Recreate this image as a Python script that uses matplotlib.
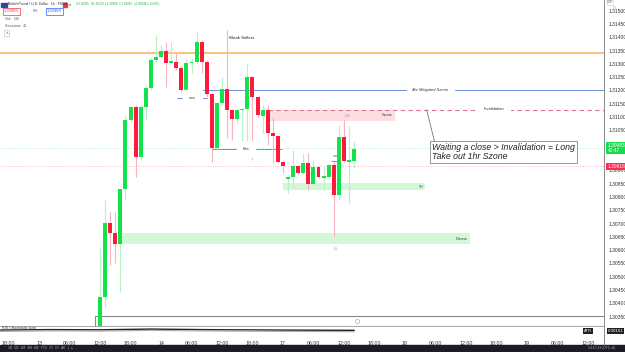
import numpy as np
import matplotlib.pyplot as plt
from matplotlib.patches import Rectangle

plt.rcParams['font.family'] = ['Liberation Sans', 'DejaVu Sans']

# ---- GBPUSD 1h candles (bar index 0 = 13th 12:00) ----
opens = [1.30262, 1.30423, 1.30701, 1.30664, 1.30623, 1.30830, 1.31089, 1.31138, 1.30950, 1.31138,
         1.31209, 1.31315, 1.31326, 1.31349, 1.31303, 1.31307, 1.31285, 1.31202, 1.31303, 1.31307,
         1.31382, 1.31307, 1.31187, 1.30984, 1.31153, 1.31205, 1.31127, 1.31093, 1.31127, 1.31130,
         1.31251, 1.31176, 1.31104, 1.31127, 1.31040, 1.31029, 1.30931, 1.30867, 1.30875, 1.30916,
         1.30890, 1.30927, 1.30848, 1.30912, 1.30871, 1.30875, 1.30920, 1.30807, 1.31025, 1.30931,
         1.30935]
highs = [1.30611, 1.30788, 1.30743, 1.30743, 1.30830, 1.31108, 1.31146, 1.31146, 1.31146, 1.31221,
         1.31322, 1.31409, 1.31371, 1.31382, 1.31382, 1.31341, 1.31292, 1.31322, 1.31322, 1.31420,
         1.31390, 1.31315, 1.31187, 1.31153, 1.31251, 1.31427, 1.31130, 1.31130, 1.31135, 1.31303,
         1.31255, 1.31180, 1.31146, 1.31146, 1.31100, 1.31033, 1.30935, 1.30879, 1.30976, 1.30920,
         1.30965, 1.30965, 1.30939, 1.30916, 1.30912, 1.30924, 1.30939, 1.31070, 1.31089, 1.31067,
         1.31010]
lows = [1.30240, 1.30386, 1.30544, 1.30551, 1.30442, 1.30788, 1.31082, 1.30875, 1.30939, 1.31089,
        1.31202, 1.31307, 1.31322, 1.31213, 1.31300, 1.31277, 1.31194, 1.31194, 1.31266, 1.31300,
        1.31266, 1.31176, 1.30931, 1.30976, 1.31146, 1.31021, 1.31014, 1.31078, 1.31003, 1.31003,
        1.30939, 1.31100, 1.31040, 1.30995, 1.30927, 1.30927, 1.30890, 1.30814, 1.30837, 1.30885,
        1.30886, 1.30826, 1.30845, 1.30870, 1.30826, 1.30871, 1.30649, 1.30788, 1.30931, 1.30777,
        1.30908]
closes = [1.30423, 1.30701, 1.30664, 1.30623, 1.30830, 1.31089, 1.31138, 1.30950, 1.31138, 1.31209,
          1.31315, 1.31326, 1.31349, 1.31303, 1.31311, 1.31285, 1.31202, 1.31303, 1.31307, 1.31382,
          1.31307, 1.31187, 1.30984, 1.31153, 1.31205, 1.31127, 1.31093, 1.31127, 1.31130, 1.31251,
          1.31176, 1.31108, 1.31127, 1.31040, 1.31029, 1.30931, 1.30916, 1.30875, 1.30916, 1.30890,
          1.30927, 1.30848, 1.30912, 1.30875, 1.30879, 1.30920, 1.30807, 1.31025, 1.30935, 1.30939,
          1.30980]

xtick_pos = [-18, -12, -6, 0, 6, 12, 18, 24, 30, 36, 42, 48, 54, 60, 66, 72, 78, 84, 90, 96]
xtick_lbl = ['18:00', '13', '06:00', '12:00', '18:00', '14', '06:00', '12:00', '18:00', '17',
             '06:00', '12:00', '18:00', '18', '06:00', '12:00', '18:00', '19', '06:00', '12:00']
price_ticks = [1.3035, 1.3040, 1.3045, 1.3050, 1.3055, 1.3060, 1.3065, 1.3070, 1.3075, 1.3080,
               1.3085, 1.3090, 1.3105, 1.3110, 1.3115, 1.3120, 1.3125, 1.3130, 1.3135, 1.3140,
               1.3145, 1.3150]

# levels / zones
weak_high = 1.31341
mitigated = 1.31202
mss_level = 1.31172
bos_level = 1.30980
invalidation = 1.31127
szone = (1.31085, 1.31127)
zone_1h = (1.30826, 1.30852)
dzone = (1.30623, 1.30664)
last_price = 1.30983
prev_close = 1.30918

# oscillator pane line
osc_x = [-20, -10, 0, 5, 10, 15, 20, 25, 30, 35, 40, 45, 50]
osc_y = [0.55, 0.60, 0.58, 0.62, 0.66, 0.63, 0.60, 0.58, 0.57, 0.55, 0.54, 0.53, 0.52]

GREEN = '#13e34a'
RED = '#ff1a3d'
GWICK = '#b6f2c4'
RWICK = '#f8b3bd'
XLIM = (-19.7, 99.2)

fig = plt.figure(figsize=(6.25, 3.52), dpi=100)
ax = fig.add_axes([0, 26 / 352, 604 / 625, 326 / 352])
ax.set_xlim(*XLIM)
ax.set_ylim(1.30315, 1.31540)

idx = np.arange(len(opens))
o = np.array(opens); c = np.array(closes)
up = c >= o
body_col = np.where(up, GREEN, RED)
wick_col = np.where(up, GWICK, RWICK)
ax.vlines(idx, lows, highs, colors=wick_col, lw=0.8, zorder=3)
bot = np.minimum(o, c)
hgt = np.maximum(np.abs(c - o), 0.000012)
ax.bar(idx, hgt, bottom=bot, width=0.78, color=body_col, zorder=4, lw=0)

# horizontal drawings
ax.axhline(weak_high, color='#f9b05a', lw=1.1, zorder=2)
ax.hlines(mitigated, 17, XLIM[1], color='#6e8fdc', lw=0.7, zorder=2)
ax.text(65, mitigated, '4hr Mitigated Szone', fontsize=3, style='italic', color='#333',
        ha='center', va='center', backgroundcolor='white', zorder=5)
ax.hlines(mss_level, 15.2, 21.1, color='#6e8fdc', lw=0.7, zorder=2)
ax.text(18.2, mss_level, 'mss', fontsize=2.8, color='#444', ha='center', va='center',
        backgroundcolor='white', zorder=5)
ax.hlines(bos_level, 22, 35.8, color='#6e8fdc', lw=0.7, zorder=2)
ax.text(28.7, bos_level, 'Bos', fontsize=2.8, color='#444', ha='center', va='center',
        backgroundcolor='white', zorder=5)

ax.add_patch(Rectangle((33.1, szone[0]), 25, szone[1] - szone[0], color='#fcdde1', lw=0, zorder=1))
ax.text(57.6, (szone[0] + szone[1]) / 2, 'Szone', fontsize=2.8, color='#444', ha='right', va='center', zorder=5)
ax.hlines(invalidation, 33.1, XLIM[1], color='#e0788a', lw=0.8, linestyles=(0, (4, 3)), zorder=2)
ax.text(75.5, invalidation + 0.00004, 'Invalidation', fontsize=3, color='#333', ha='left', va='center',
        backgroundcolor='white', zorder=5)

ax.add_patch(Rectangle((36, zone_1h[0]), 28, zone_1h[1] - zone_1h[0], color='#d2f8d9', lw=0, zorder=1))
ax.text(63.6, sum(zone_1h) / 2, '1H', fontsize=2.6, color='#444', ha='right', va='center', zorder=5)
ax.add_patch(Rectangle((3.9, dzone[0]), 68.9, dzone[1] - dzone[0], color='#d2f8d9', lw=0, zorder=1))
ax.text(72.3, sum(dzone) / 2, 'Dzone', fontsize=3, color='#444', ha='right', va='center', zorder=5)

ax.text(48.6, 1.31104, 'LH', fontsize=3.2, color='#f06a9a', ha='center', va='center', zorder=5)
ax.text(46.4, 1.30604, 'LL', fontsize=3.2, color='#f06a9a', ha='center', va='center', zorder=5)
ax.text(25.3, 1.31397, 'Weak Sellers', fontsize=3.2, color='#222', ha='left', va='center', zorder=5)
ax.hlines(1.30935, 45.4, 47.2, color='#888', lw=0.6, zorder=5)
ax.text(46.3, 1.30945, 'mss', fontsize=2.2, color='#666', ha='center', va='bottom', zorder=5)

# callout
ax.plot([64.3, 65.9], [invalidation, 1.31003], color='#777', lw=0.6, zorder=5)
ax.text(65.4, 1.30968, 'Waiting a close > Invalidation = Long\nTake out 1hr Szone', fontsize=6.3,
        style='italic', color='#222', ha='left', va='center', linespacing=0.95, zorder=6,
        bbox=dict(boxstyle='square,pad=0.25', fc='white', ec='#888', lw=0.6))

# price lines
ax.axhline(last_price, color='#9ff0b4', lw=0.6, ls=(0, (1, 2)), zorder=1)
ax.axhline(prev_close, color='#f7a3b0', lw=0.6, ls=(0, (1, 2)), zorder=1)

# box at bottom of pane
ax.add_patch(Rectangle((-1, 1.30315), 101, 0.00038, fill=False, ec='#888', lw=0.8, zorder=2))
ax.plot(50.5, 1.30335, marker='o', ms=3, mfc='white', mec='#bbb', mew=0.6, zorder=6)

# right price axis
ax.yaxis.tick_right()
ax.set_yticks(price_ticks)
ax.set_yticklabels([f'{p:.5f}' for p in price_ticks], fontsize=3.6, color='#333')
ax.tick_params(axis='y', length=0, pad=3)
ax.set_xticks([])
for s in ['top', 'left', 'bottom']:
    ax.spines[s].set_visible(False)
ax.spines['right'].set_color('#777')
ax.spines['right'].set_linewidth(0.6)

tr = ax.get_yaxis_transform()
ax.text(1.006, last_price, f'{last_price:.5f}\n42:47', transform=tr, fontsize=3.5, color='white',
        ha='left', va='center', linespacing=1.0, zorder=7,
        bbox=dict(boxstyle='square,pad=0.25', fc='#12e048', ec='none'))
ax.text(1.006, prev_close - 0.00004, f'{prev_close:.5f}', transform=tr, fontsize=3.5, color='white',
        ha='left', va='center', zorder=7, bbox=dict(boxstyle='square,pad=0.25', fc='#ff2a50', ec='none'))
fig.text(607 / 625, 351.6 / 352, 'USD', fontsize=1.9, color='#555', ha='left', va='top',
         bbox=dict(boxstyle='square,pad=0.1', fc='white', ec='#ccc', lw=0.4))

# oscillator pane + time axis
ax2 = fig.add_axes([0, 17 / 352, 604 / 625, 9 / 352])
ax2.set_xlim(*XLIM)
ax2.set_ylim(0, 1)
ax2.plot(osc_x, osc_y, color='#222', lw=1.0)
ax2.plot(osc_x, [v - 0.15 for v in osc_y], color='#aaa', lw=0.8)
ax2.text(0.003, 0.75, 'RSI / Stochastic slow', transform=ax2.transAxes, fontsize=2.6, color='#333', va='center')
ax2.set_yticks([])
ax2.set_xticks(xtick_pos)
ax2.set_xticklabels(xtick_lbl)
ax2.tick_params(axis='x', length=0, pad=4, labelsize=3.8, labelcolor='#333')
for s in ['left', 'bottom']:
    ax2.spines[s].set_visible(False)
ax2.spines['top'].set_color('#999')
ax2.spines['top'].set_linewidth(0.6)
ax2.spines['right'].set_color('#777')
ax2.spines['right'].set_linewidth(0.6)
ax2.text(0.98, 0.45, 'ATR', transform=ax2.transAxes, fontsize=3, color='white', ha='right', va='center',
         bbox=dict(boxstyle='square,pad=0.15', fc='#222', ec='none'))
ax2.text(1.006, 0.45, '0.00161', transform=ax2.transAxes, fontsize=3.2, color='white', ha='left', va='center',
         bbox=dict(boxstyle='square,pad=0.15', fc='#222', ec='none'))
fig.add_artist(plt.Line2D([604 / 625, 604 / 625], [7 / 352, 17 / 352], color='#777', lw=0.6))

# bottom toolbar
fig.patches.append(Rectangle((0, 0), 1, 7 / 352, transform=fig.transFigure, color='#1a1d27', zorder=0))
fig.text(0.012, 3.5 / 352, '1D  5D  1M  3M  6M  YTD  1Y  5Y  All   |  ⌂', fontsize=2.4, color='#aab', va='center')
fig.text(0.985, 3.5 / 352, '14:17:13 (UTC+8)', fontsize=2.4, color='#aab', va='center', ha='right')
fig.text(0.982, 344 / 352, '⚙', fontsize=4, color='#bbb', ha='center', va='center')

# header / legend
fig.add_artist(Rectangle((1.5 / 625, 345.5 / 352), 5 / 625, 4 / 352, transform=fig.transFigure, color='#2c4a9a'))
fig.text(8 / 625, 348 / 352, 'British Pound / U.S. Dollar · 1h · FXCM', fontsize=2.4, color='#222', va='center')
fig.add_artist(Rectangle((63 / 625, 345.5 / 352), 4 / 625, 4 / 352, transform=fig.transFigure, color='#f23645'))
fig.text(69 / 625, 348 / 352, '●', fontsize=2.6, color='#2a2', va='center')
fig.text(76 / 625, 348 / 352, 'O1.30935  H1.31010  L1.30908  C1.30983  +0.00048 (+0.04%)', fontsize=2.2,
         color='#22b14c', va='center')
fig.text(0.006, 340.5 / 352, '1.30983', fontsize=3, color='#f23645', va='center',
         bbox=dict(boxstyle='square,pad=0.3', fc='white', ec='#f23645', lw=0.5))
fig.text(0.052, 340.5 / 352, '0.6', fontsize=2.8, color='#555', va='center')
fig.text(0.075, 340.5 / 352, '1.30989', fontsize=3, color='#2962ff', va='center',
         bbox=dict(boxstyle='square,pad=0.3', fc='white', ec='#2962ff', lw=0.5))
fig.text(0.008, 333 / 352, 'Vol · 1B', fontsize=2.8, color='#555', va='center')
fig.text(0.008, 326 / 352, 'Sessions  ⊙', fontsize=2.8, color='#555', va='center')
fig.text(0.008, 319 / 352, '∧', fontsize=2.8, color='#555', va='center',
         bbox=dict(boxstyle='square,pad=0.25', fc='white', ec='#bbb', lw=0.4))

fig.savefig('out.png', dpi=100)
